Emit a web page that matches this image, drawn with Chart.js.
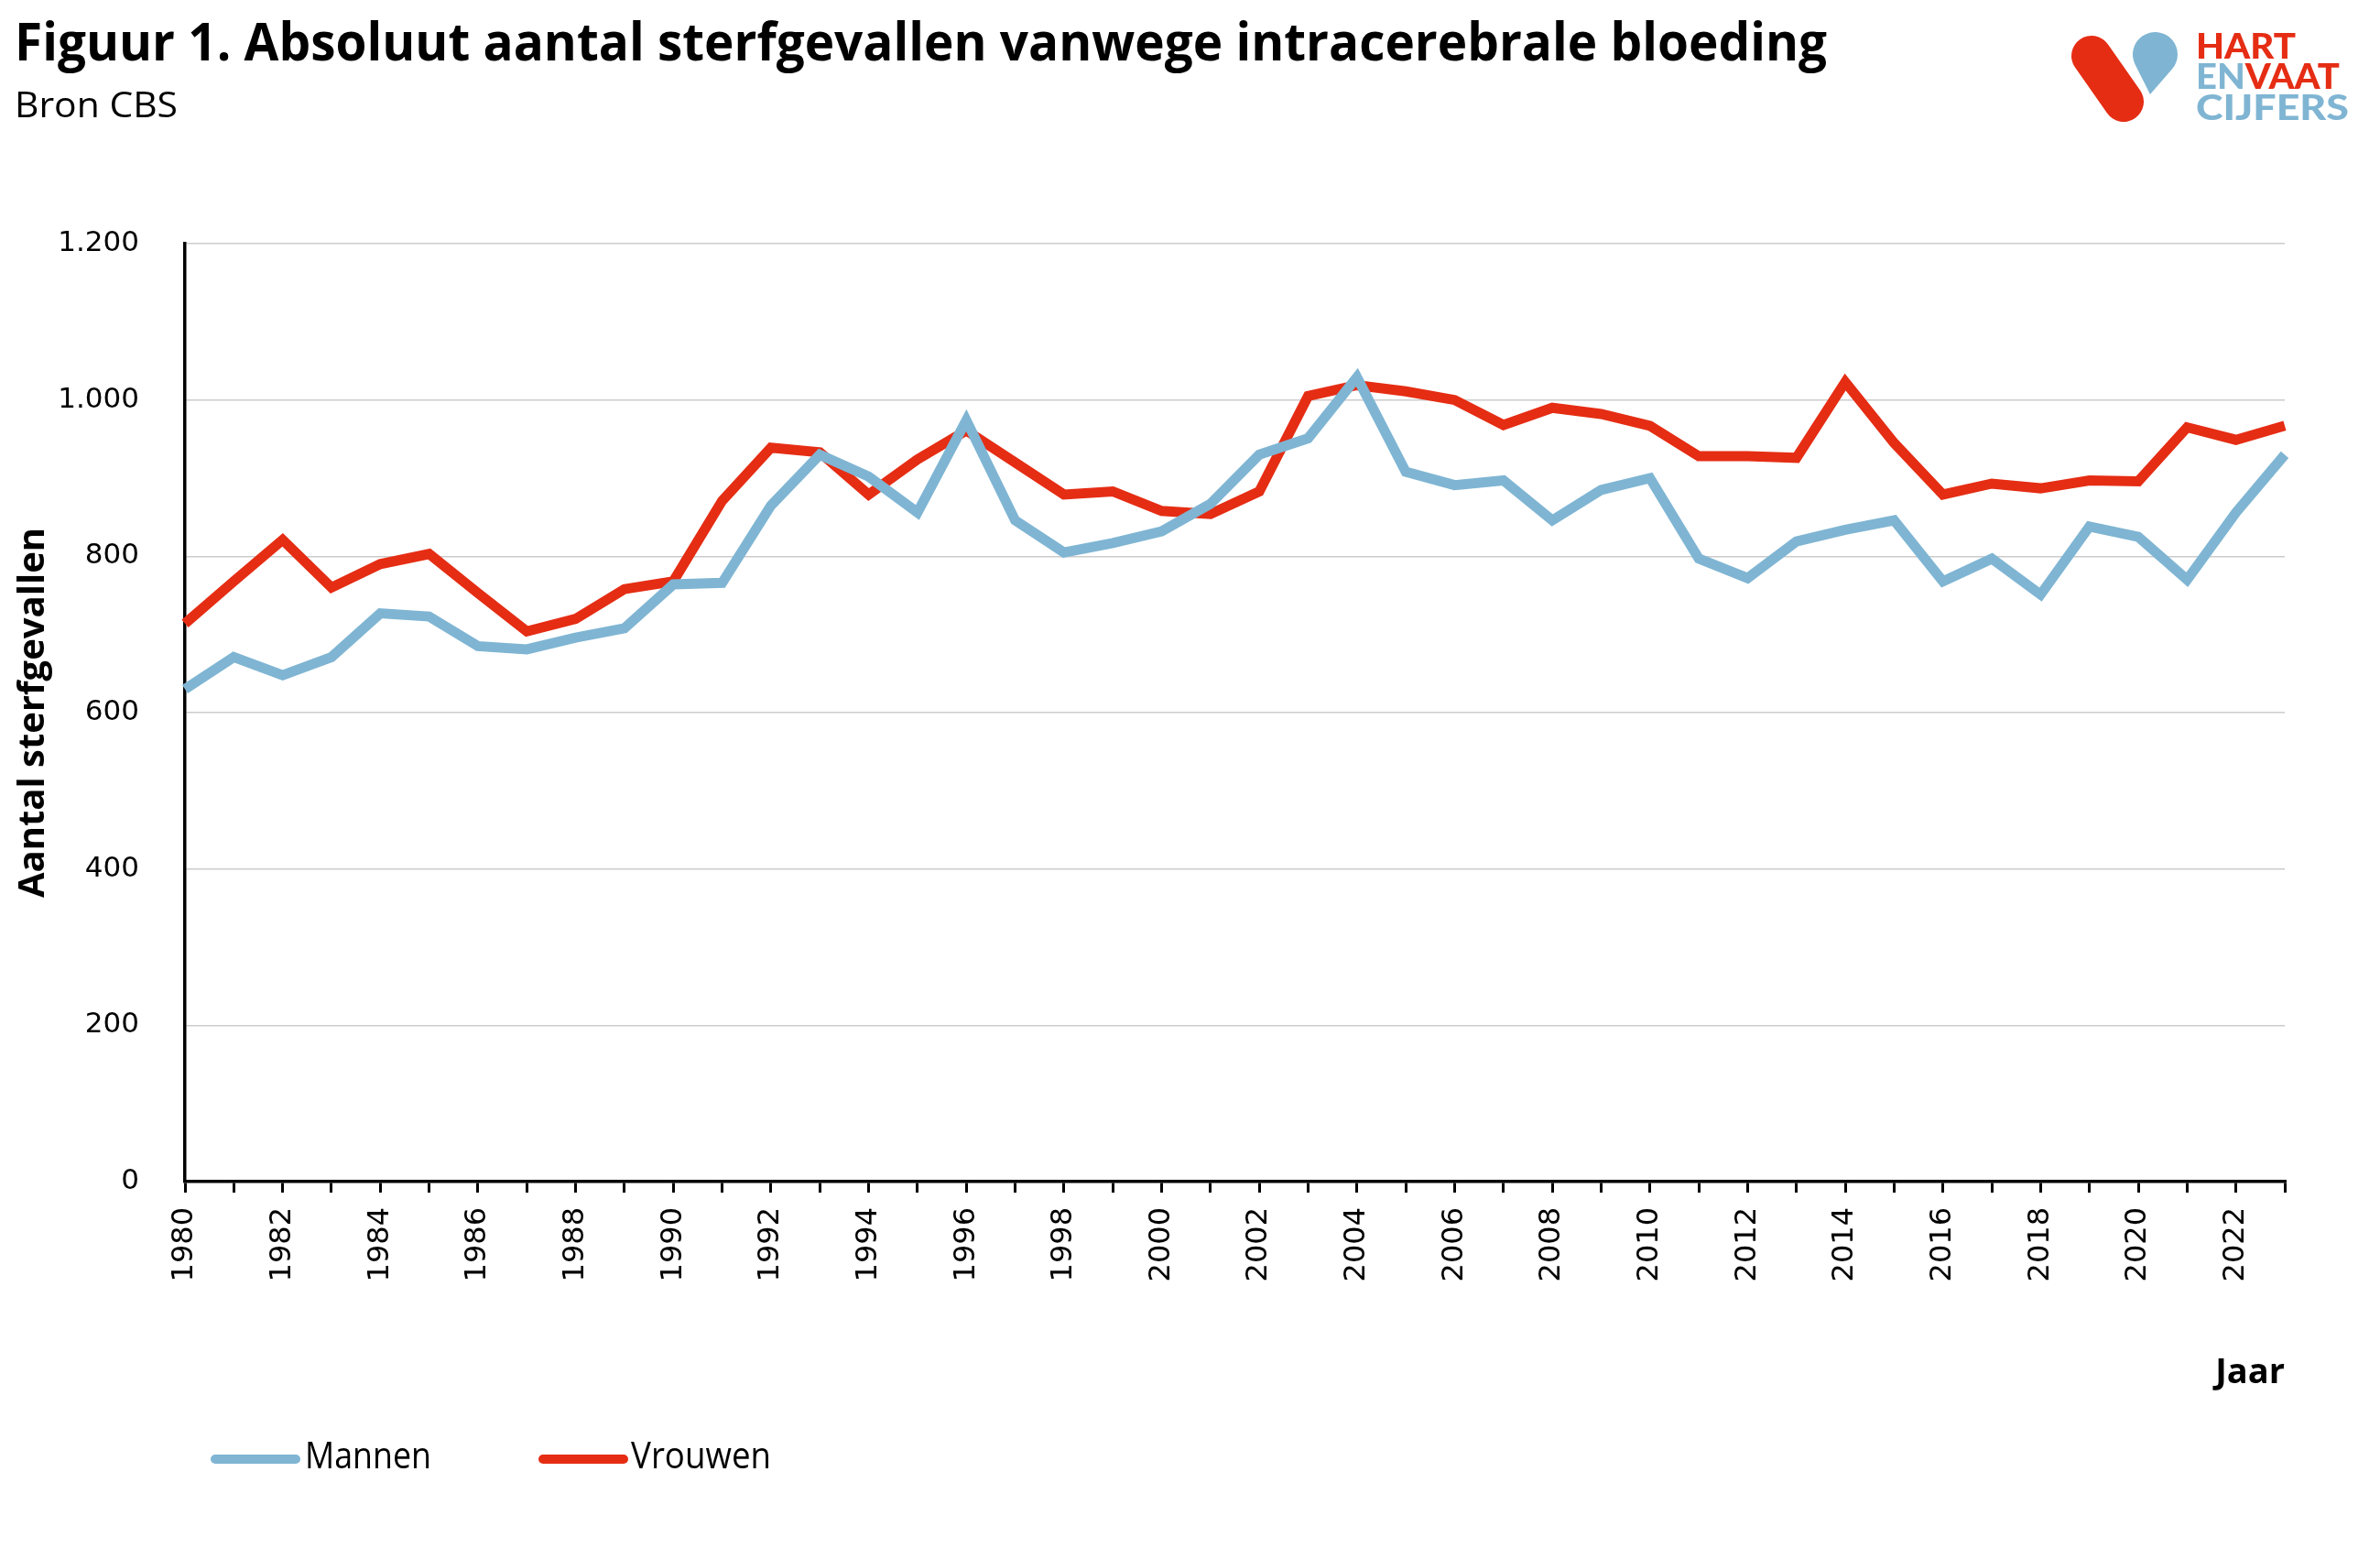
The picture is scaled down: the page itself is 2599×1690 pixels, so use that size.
<!DOCTYPE html>
<html>
<head>
<meta charset="utf-8">
<script src="https://cdn.jsdelivr.net/npm/chart.js@4.4.1/dist/chart.umd.min.js"></script>
<style>
  html, body { margin: 0; padding: 0; background: #ffffff; }
  body { width: 2599px; height: 1690px; position: relative; overflow: hidden; }
  #chart { position: absolute; left: 0; top: 0; }
  .txt { position: absolute; white-space: nowrap; transform-origin: 0 0; color: #000; line-height: 1; font-family: 'Open Sans', 'Liberation Sans', sans-serif; }
  #title { left: 16px; top: 15px; font-size: 58px; font-weight: 700; }
  #subtitle { left: 16px; top: 93px; font-size: 39px; font-weight: 400; }
  .legline { position: absolute; height: 10px; border-radius: 5px; }
  .legtxt { top: 1568px; font-size: 40px; font-weight: 400; }
  #logo { position: absolute; left: 0; top: 0; }
</style>
</head>
<body>
<canvas id="chart" width="2599" height="1690"></canvas>

<div id="title" class="txt">Figuur 1. Absoluut aantal sterfgevallen vanwege intracerebrale bloeding</div>
<div id="subtitle" class="txt">Bron CBS</div>

<svg id="logo" width="2599" height="160" viewBox="0 0 2599 160">
  <line x1="2284" y1="61" x2="2319" y2="111" stroke="#E52D14" stroke-width="44" stroke-linecap="round"/>
  <path d="M2348,103 L2331.6,70.5 A24.5,24.5 0 1 1 2371.9,75.6 Z" fill="#7FB5D3"/>
  <g font-family="Lato, 'Open Sans', sans-serif" font-weight="900" font-size="38">
    <text x="2398" y="64" textLength="109" lengthAdjust="spacingAndGlyphs" fill="#E52D14">HART</text>
    <text x="2398" y="97" textLength="157" lengthAdjust="spacingAndGlyphs"><tspan fill="#7FB5D3">EN</tspan><tspan fill="#E52D14">VAAT</tspan></text>
    <text x="2398" y="131" textLength="167" lengthAdjust="spacingAndGlyphs" fill="#7FB5D3">CIJFERS</text>
  </g>
</svg>

<div class="legline" style="left:230px; top:1588px; width:98px; background:#7FB5D3;"></div>
<div id="legM" class="txt legtxt" style="left:333px;">Mannen</div>
<div class="legline" style="left:588px; top:1588px; width:98px; background:#E52D14;"></div>
<div id="legV" class="txt legtxt" style="left:689px;">Vrouwen</div>

<script>
// ---- data ----
const years = ['1980','1981','1982','1983','1984','1985','1986','1987','1988','1989',
               '1990','1991','1992','1993','1994','1995','1996','1997','1998','1999',
               '2000','2001','2002','2003','2004','2005','2006','2007','2008','2009',
               '2010','2011','2012','2013','2014','2015','2016','2017','2018','2019',
               '2020','2021','2022','2023'];

const mannen = [630, 671, 648, 671, 727, 723, 685, 681, 696, 708,
                764, 766, 865, 930, 902, 856, 974, 846, 805, 817,
                832, 867, 930, 951, 1029, 908, 891, 897, 846, 885,
                900, 797, 772, 819, 834, 846, 768, 797, 751, 838,
                825, 770, 856, 930];

const vrouwen = [714, 768, 821, 760, 790, 803, 753, 704, 720, 758,
                 768, 871, 939, 933, 879, 924, 961, 920, 879, 883,
                 858, 854, 883, 1005, 1019, 1011, 1000, 968, 990, 982,
                 967, 928, 928, 926, 1023, 945, 879, 893, 887, 897,
                 896, 965, 949, 967];

const yTickLabels = ['0', '200', '400', '600', '800', '1.000', '1.200'];
const seriesNames = ['Mannen', 'Vrouwen'];
const yTitle = 'Aantal sterfgevallen';
const xTitle = 'Jaar';

const BLUE = '#7FB5D3';
const RED = '#E52D14';

// ---- fit HTML texts to reference widths ----
function fitWidth(id, w) {
  const el = document.getElementById(id);
  el.style.transform = 'none';
  const r = el.getBoundingClientRect().width;
  if (r > 0) el.style.transform = 'scaleX(' + (w / r) + ')';
}
function fitAll() {
  fitWidth('title', 1979);
  fitWidth('subtitle', 178);
  fitWidth('legM', 138);
  fitWidth('legV', 153);
}
fitAll();
if (document.fonts && document.fonts.ready) document.fonts.ready.then(fitAll);

// ---- chart ----
const ctx = document.getElementById('chart').getContext('2d');
new Chart(ctx, {
  type: 'line',
  data: {
    labels: years,
    datasets: [
      { label: seriesNames[0], data: mannen, borderColor: BLUE, backgroundColor: BLUE,
        borderWidth: 11, pointRadius: 0, tension: 0, fill: false },
      { label: seriesNames[1], data: vrouwen, borderColor: RED, backgroundColor: RED,
        borderWidth: 11, pointRadius: 0, tension: 0, fill: false }
    ]
  },
  options: {
    responsive: false,
    animation: false,
    devicePixelRatio: 1,
    layout: { padding: { left: 0, right: 104, top: 266, bottom: 168 } },
    plugins: {
      legend: { display: false },
      tooltip: { enabled: false },
      title: { display: false }
    },
    scales: {
      x: {
        type: 'category',
        offset: false,
        afterFit: (s) => { s.height = 232; },
        border: { display: true, color: '#000000', width: 3.5 },
        grid: { display: true, drawOnChartArea: false, drawTicks: true, tickLength: 12,
                color: '#000000', lineWidth: 3 },
        ticks: {
          autoSkip: false, minRotation: 90, maxRotation: 90, padding: 16,
          color: '#000000',
          font: { family: "'DejaVu Sans', sans-serif", size: 32 },
          callback: function (value, index) { return index % 2 === 0 ? years[index] : ''; }
        },
        title: {
          display: true, text: xTitle, align: 'end', color: '#000000',
          padding: { top: 0, bottom: 0 },
          font: { family: "'Open Sans', 'Liberation Sans', sans-serif", size: 38, weight: 'bold' }
        }
      },
      y: {
        min: 0, max: 1200,
        afterFit: (s) => { s.width = 202; },
        border: { display: true, color: '#000000', width: 3.5 },
        grid: { color: '#cccccc', lineWidth: 1.5, drawTicks: false },
        ticks: {
          stepSize: 200, padding: 50, color: '#000000',
          font: { family: "'DejaVu Sans', sans-serif", size: 31 },
          callback: function (value) { return yTickLabels[Math.round(value / 200)]; }
        },
        title: {
          display: true, text: yTitle, color: '#000000',
          padding: { top: 13, bottom: 0 },
          font: { family: "'Open Sans', 'Liberation Sans', sans-serif", size: 40, weight: 'bold' }
        }
      }
    }
  }
});
</script>
</body>
</html>
